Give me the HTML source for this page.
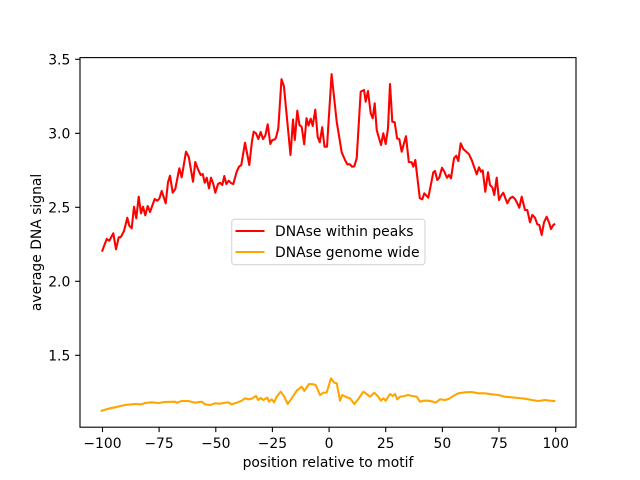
<!DOCTYPE html>
<html>
<head>
<meta charset="utf-8">
<style>
html,body{margin:0;padding:0;background:#fff;}
svg{display:block;}
text{font-family:"DejaVu Sans","Liberation Sans",sans-serif;font-size:13.9px;fill:#000;}
</style>
</head>
<body>
<svg width="640" height="480" viewBox="0 0 640 480" xmlns="http://www.w3.org/2000/svg">
<rect x="0" y="0" width="640" height="480" fill="#fff"/>

<!-- red series -->
<polyline fill="none" stroke="#ff0000" stroke-width="2.08" stroke-linejoin="round" stroke-linecap="square" points="102.3,250.7 106.7,239 109.3,240.7 113.3,233.3 116,249.3 118.7,237.3 120.7,237.3 124,231 127.3,217.7 129.3,225.7 131.7,228.3 134,206.7 136.3,218.3 138.7,196.7 141,213.3 143,206.7 145.3,215.3 147.7,206 150,212 154.7,199 157.3,200.7 159.3,198.7 161.7,191 165.7,203.3 168,182.3 170,175.7 172.7,192.7 175.3,189 179.3,168.3 181.7,177.3 186,151.7 188.7,156.7 193,181.7 195.3,162 198,169.3 200.7,175 202.7,174 204.7,182.7 206.7,177.7 209,188.3 211,177.7 213.3,184 215.3,192.7 218,184 220,182.7 222.3,185 224.3,176 226.3,184 228.7,180.7 231.3,183.3 233.3,184 236.7,171.7 239,166.7 241.3,165 245,142.7 249.3,165 252,141 253.7,131.7 256,133.3 258.3,139 260.7,132 263,139 265.3,135.7 267.7,124.3 270.3,144 272.3,140 274.7,139.5 276,137.7 278.3,128.3 281.5,79.2 283.9,86.2 290.5,155 293,119.5 294.8,140 297.3,110.7 299.5,125 301.7,127 304.2,144.3 306.5,118.2 308.5,125.5 310.7,118.7 312.7,126 315.3,109.7 317.7,137 319.8,142.3 322.2,127.2 324.5,146.7 327,146.7 331.6,74.2 336.7,121.7 341.7,152.3 345,160 347.3,164.3 350,164.3 352,166.7 354.3,166.3 356.7,158.3 360.7,91.7 364,90 365.7,101.7 368,91 370.7,113.3 372.7,118.3 374.7,103.3 376.7,130 381,145 383.3,133.3 385.7,144 388,128.3 390,84 392.3,121.7 394.7,122.3 397.1,138.5 399.3,139 401.7,151.7 406,136.2 408.8,162 411.7,162.3 413.3,166.7 415.3,160 419.8,198.3 422.3,199.3 424.3,193.3 428.3,197.7 433.3,172.3 435,171 437.3,180 439.3,177.7 442,167.7 444.3,171.7 447,177.7 449,175 451,178.3 454,158.3 456.3,155.7 458.3,161 460.7,143.3 463.3,149 469,154.3 471.7,160 476.7,174.3 479,167.3 481,171.7 482.7,170.3 485.3,191.7 488,172.3 490,185 492.3,187.3 494.3,195 496.7,177.7 499,200 501,196 503.3,192.7 507.3,203.3 510,198.3 512.7,196.7 515,199 517.3,203.3 519.3,207.7 521.7,196.7 525,210 527.3,210 530,222.3 532.3,215 535,217.7 537.3,224.3 539.3,225 541.7,235 544,222.3 546.7,216.7 549.3,223.3 551,229 553.3,225 554.3,224.3"/>

<!-- orange series -->
<polyline fill="none" stroke="#ffa500" stroke-width="2.08" stroke-linejoin="round" stroke-linecap="square" points="101.7,410.7 108.3,408.7 115,407.3 125,405 135,404 141.7,404.3 145,403 151.7,402.3 158.3,403 165,402 175,401.7 176.7,402.7 181.7,401 188.3,401 195,402.7 201.7,401.7 205,404.3 210,405 215,403.3 220,403.7 223.3,403 228.3,402.3 231.7,404.3 236.7,402.7 241.7,400.7 245,398.3 248.3,399.3 251.7,398.7 256,396 258.3,400 260.7,398 263.3,400 267.3,397.7 269,401.7 271.7,399.3 274,402.3 276.7,396.7 280.7,391.7 284.3,396.7 287.7,404 291.7,398.3 296.7,390.7 301.7,386.7 304.3,391 309,384 313.3,384.3 315.7,385 320,395 323.3,392.7 326.7,392.5 331,378.3 334.3,382.7 336.7,383.3 340,400.7 342.3,395 346.7,397.3 350,398.3 354.3,404 358.3,399 363.3,391.7 366.7,394 370,396.7 374.3,392.7 377.7,396 381,400.7 383.3,398.3 385.7,400.7 390,394 392.7,396 395,394 397.3,399.3 400,396.7 405,396 407.7,395 412.3,396 416.7,396.7 420,401.7 423.3,400.7 428.3,400.7 433.3,401.7 435.7,402.7 440,399.3 445,400 449,398.7 453.3,396 458.3,393.3 465,392.3 471.7,392 478.3,393.3 485,393.3 491.7,394.3 498.3,395 505,396.7 511.7,397.3 518.3,398 525,398.7 531.7,400 538.3,401 545,400 550,400.7 554.3,401"/>

<!-- axes frame -->
<rect x="80" y="57.6" width="496" height="369.6" fill="none" stroke="#000" stroke-width="1.1"/>

<!-- x ticks -->
<g stroke="#000" stroke-width="1.1">
<line x1="102.5" y1="427.2" x2="102.5" y2="432.1"/>
<line x1="159.1" y1="427.2" x2="159.1" y2="432.1"/>
<line x1="215.8" y1="427.2" x2="215.8" y2="432.1"/>
<line x1="272.4" y1="427.2" x2="272.4" y2="432.1"/>
<line x1="329.1" y1="427.2" x2="329.1" y2="432.1"/>
<line x1="385.7" y1="427.2" x2="385.7" y2="432.1"/>
<line x1="442.4" y1="427.2" x2="442.4" y2="432.1"/>
<line x1="499" y1="427.2" x2="499" y2="432.1"/>
<line x1="555.7" y1="427.2" x2="555.7" y2="432.1"/>
</g>
<g text-anchor="middle">
<text x="102.5" y="448">−100</text>
<text x="159.1" y="448">−75</text>
<text x="215.8" y="448">−50</text>
<text x="272.4" y="448">−25</text>
<text x="329.1" y="448">0</text>
<text x="385.7" y="448">25</text>
<text x="442.4" y="448">50</text>
<text x="499" y="448">75</text>
<text x="555.7" y="448">100</text>
</g>

<!-- y ticks -->
<g stroke="#000" stroke-width="1.1">
<line x1="75.1" y1="59.3" x2="80" y2="59.3"/>
<line x1="75.1" y1="133.3" x2="80" y2="133.3"/>
<line x1="75.1" y1="207.3" x2="80" y2="207.3"/>
<line x1="75.1" y1="281.3" x2="80" y2="281.3"/>
<line x1="75.1" y1="355.3" x2="80" y2="355.3"/>
</g>
<g text-anchor="end">
<text x="70.3" y="64.3">3.5</text>
<text x="70.3" y="138.3">3.0</text>
<text x="70.3" y="212.3">2.5</text>
<text x="70.3" y="286.3">2.0</text>
<text x="70.3" y="360.3">1.5</text>
</g>

<!-- axis labels -->
<text x="328" y="467" text-anchor="middle">position relative to motif</text>
<text x="0" y="0" text-anchor="middle" transform="translate(41,242.4) rotate(-90)">average DNA signal</text>

<!-- legend -->
<rect x="231.7" y="219.3" width="193.3" height="45.4" rx="2.8" ry="2.8" fill="#fff" fill-opacity="0.8" stroke="#d6d6d6" stroke-width="1.1"/>
<line x1="235.5" y1="231" x2="264.5" y2="231" stroke="#ff0000" stroke-width="2.08"/>
<line x1="235.5" y1="252" x2="264.5" y2="252" stroke="#ffa500" stroke-width="2.08"/>
<text x="275" y="236">DNAse within peaks</text>
<text x="275" y="257">DNAse genome wide</text>
</svg>
</body>
</html>
